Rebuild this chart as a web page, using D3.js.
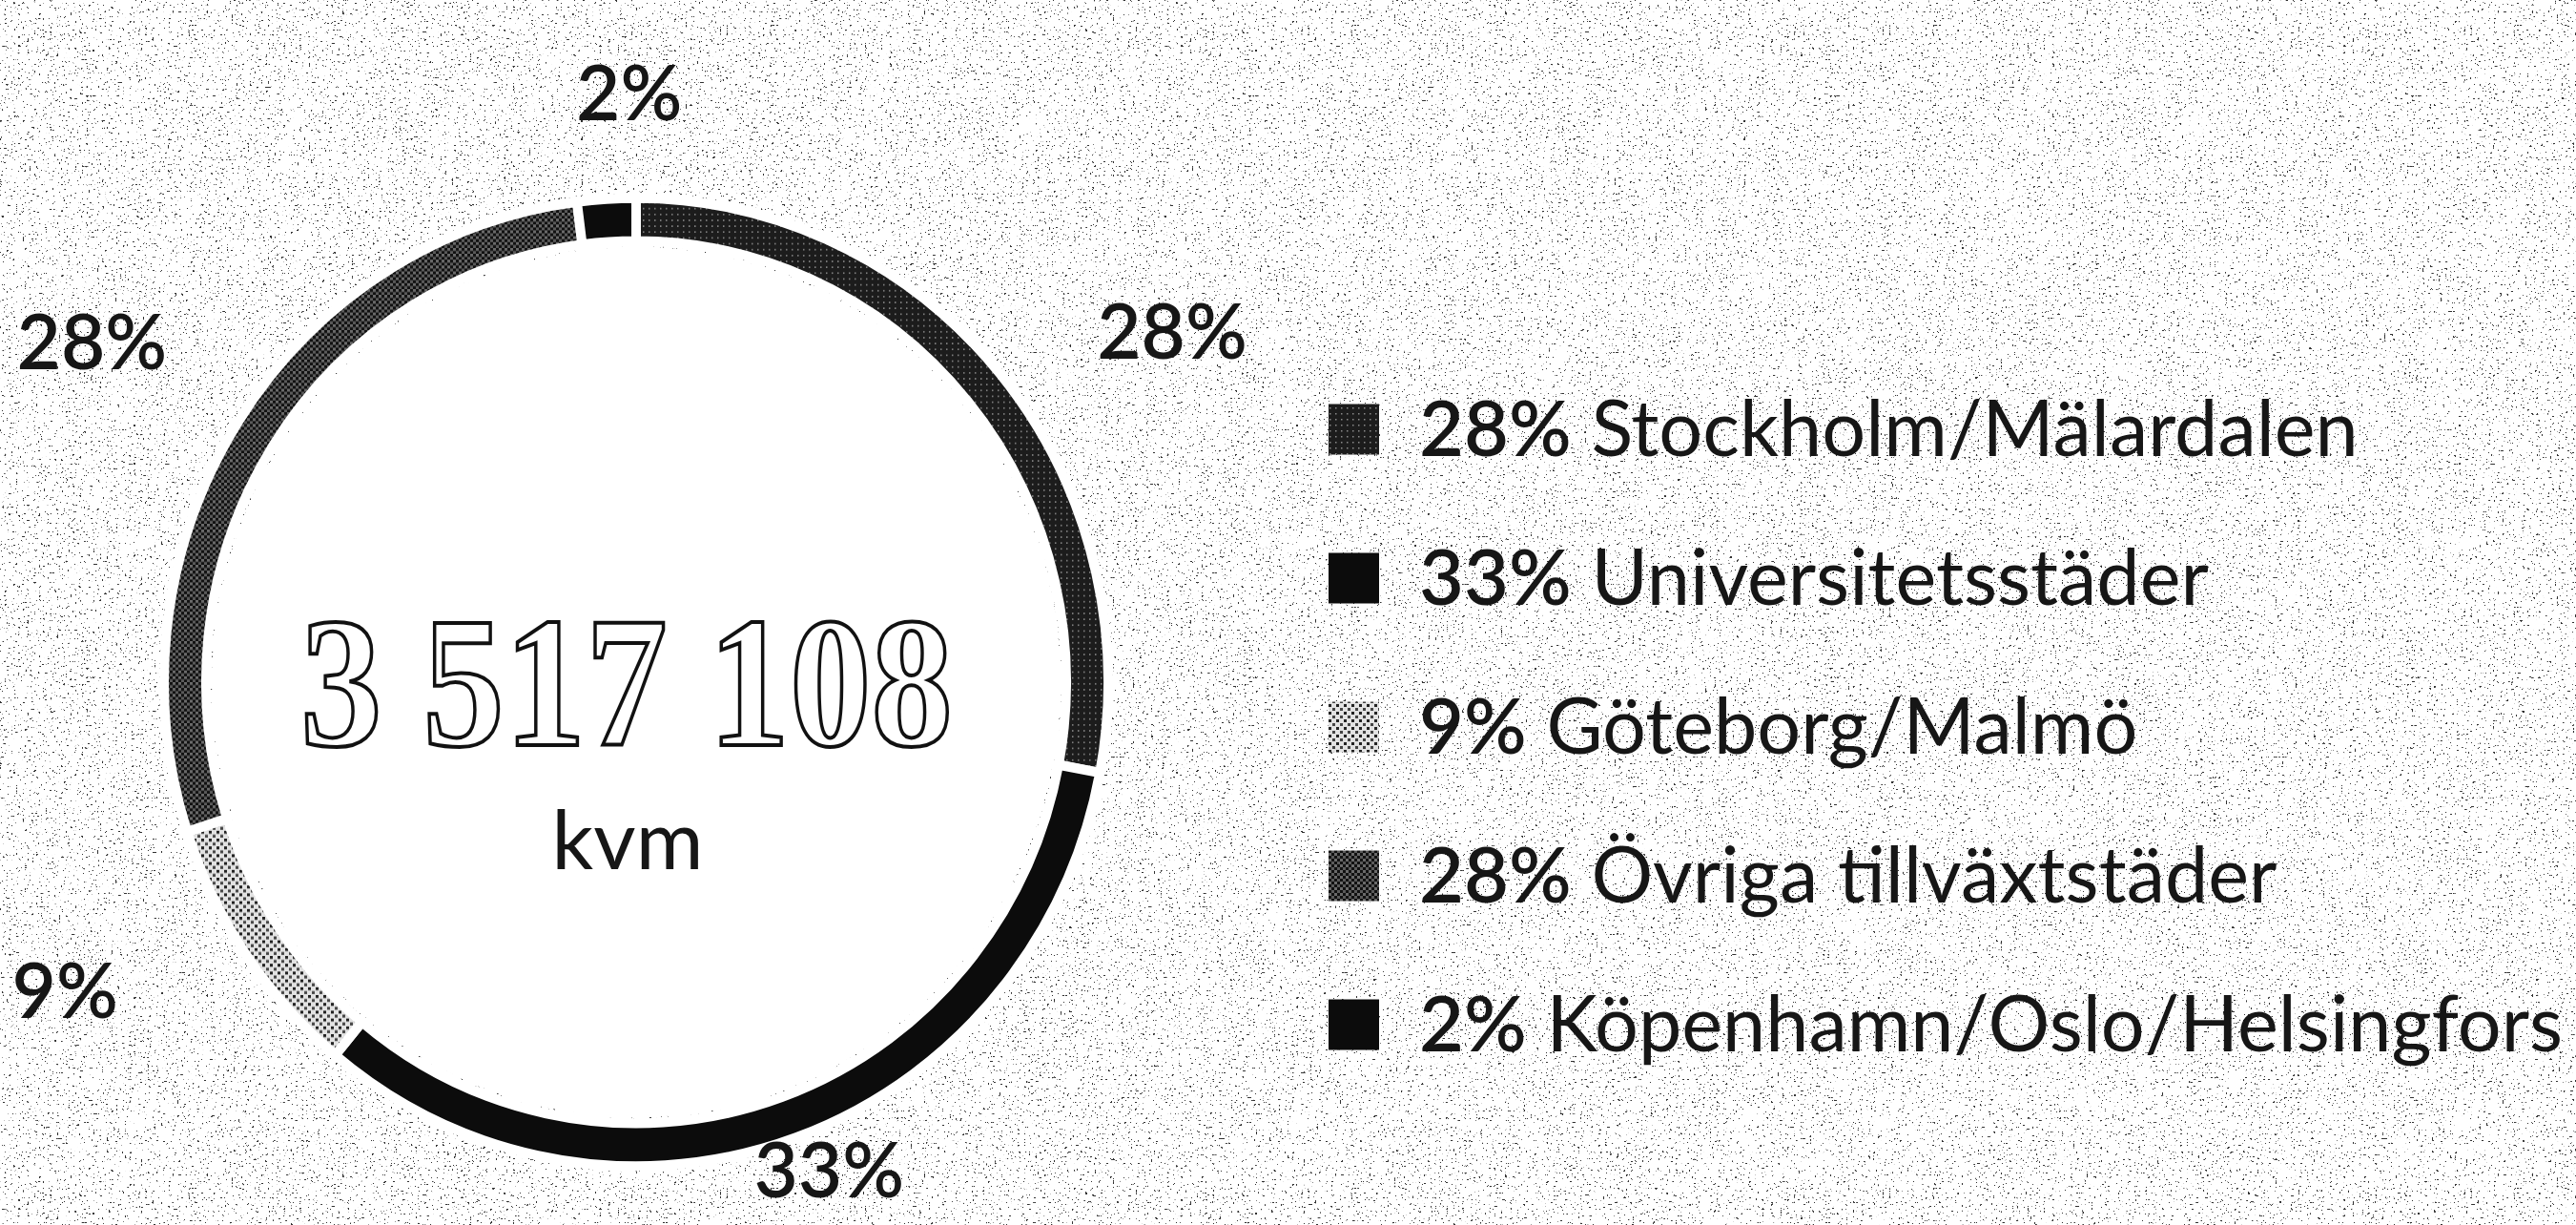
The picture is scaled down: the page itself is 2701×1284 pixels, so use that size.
<!DOCTYPE html>
<html>
<head>
<meta charset="utf-8">
<script src="https://cdn.jsdelivr.net/npm/d3@7/dist/d3.min.js"></script>
<style>
  html, body { margin: 0; padding: 0; background: #fff; }
  svg { display: block; }
</style>
</head>
<body>
<div id="chart"></div>
<script>
// data
const categories = ['Stockholm/Mälardalen', 'Universitetsstäder', 'Göteborg/Malmö', 'Övriga tillväxtstäder', 'Köpenhamn/Oslo/Helsingfors'];
const shares = [28, 33, 9, 28, 2];
const totalLabel = '3 517 108';
const unitLabel = 'kvm';

const W = 2701, H = 1284;
const cx = 667, cy = 715;
const outerR = 495, innerR = 451, squash = 1.025;

const svg = d3.select('#chart').append('svg')
    .attr('width', W)
    .attr('height', H)
    .attr('viewBox', `0 0 ${W} ${H}`);

const defs = svg.append('defs');

// scan speckle over the paper
const speck = defs.append('filter').attr('id', 'speck')
    .attr('x', 0).attr('y', 0).attr('width', '100%').attr('height', '100%');
speck.append('feTurbulence')
    .attr('type', 'fractalNoise')
    .attr('baseFrequency', 0.42)
    .attr('numOctaves', 2)
    .attr('seed', 11);
speck.append('feColorMatrix')
    .attr('type', 'matrix')
    .attr('values', '0 0 0 0 0  0 0 0 0 0  0 0 0 0 0  -24 0 0 0 7.4');

svg.append('rect').attr('width', W).attr('height', H).attr('fill', '#fff');
svg.append('rect').attr('width', W).attr('height', H)
    .attr('fill', '#1a1a1a')
    .attr('opacity', 0.8)
    .attr('filter', 'url(#speck)');

// textures that stand in for the scanned fills
const pStock = defs.append('pattern').attr('id', 'p-stock')
    .attr('width', 6).attr('height', 6).attr('patternUnits', 'userSpaceOnUse');
pStock.append('rect').attr('width', 6).attr('height', 6).attr('fill', '#1c1c1c');
pStock.append('rect').attr('x', 1).attr('y', 1).attr('width', 1.5).attr('height', 1.5).attr('fill', '#8a8a8a');

const pGbg = defs.append('pattern').attr('id', 'p-gbg')
    .attr('width', 8).attr('height', 8).attr('patternUnits', 'userSpaceOnUse');
pGbg.append('rect').attr('width', 8).attr('height', 8).attr('fill', '#e2e2e2');
pGbg.append('rect').attr('width', 3).attr('height', 3).attr('fill', '#222');
pGbg.append('rect').attr('x', 4).attr('y', 4).attr('width', 3).attr('height', 3).attr('fill', '#444');

const pOvr = defs.append('pattern').attr('id', 'p-ovr')
    .attr('width', 6).attr('height', 6).attr('patternUnits', 'userSpaceOnUse');
pOvr.append('rect').attr('width', 6).attr('height', 6).attr('fill', '#111');
pOvr.append('rect').attr('width', 3).attr('height', 3).attr('fill', '#6a6a6a');
pOvr.append('rect').attr('x', 3).attr('y', 3).attr('width', 3).attr('height', 3).attr('fill', '#5a5a5a');

const color = d3.scaleOrdinal()
    .domain(categories)
    .range(['url(#p-stock)', '#0c0c0c', 'url(#p-gbg)', 'url(#p-ovr)', '#0c0c0c']);

const slices = categories.map((c, i) => ({ name: c, value: shares[i] }));

const pie = d3.pie().sort(null).value(d => d.value);
const arc = d3.arc().innerRadius(innerR).outerRadius(outerR);
const arcs = pie(slices);

// clean paper inside the ring, like the reference
svg.append('ellipse')
    .attr('cx', cx).attr('cy', cy)
    .attr('rx', innerR - 6).attr('ry', (innerR - 6) * squash)
    .attr('fill', '#fff');

const ring = svg.append('g')
    .attr('transform', `translate(${cx},${cy}) scale(1,${squash})`);

ring.selectAll('path')
    .data(arcs)
    .enter()
    .append('path')
    .attr('d', arc)
    .attr('fill', d => color(d.data.name))
    .attr('stroke', '#fff')
    .attr('stroke-width', 10);

// percentage labels outside the ring, on an ellipse a little ahead of each slice's middle,
// kept inside the bottom of the frame
const labelRx = 700, labelRy = 620, labelTurn = 3 * Math.PI / 180;
const labels = svg.append('g')
    .attr('font-family', 'Lato, "Open Sans", sans-serif')
    .attr('font-size', 80)
    .attr('font-weight', 600)
    .attr('fill', '#161616');

labels.selectAll('text')
    .data(arcs)
    .enter()
    .append('text')
    .attr('text-anchor', 'middle')
    .attr('dominant-baseline', 'central')
    .attr('x', d => cx + Math.sin((d.startAngle + d.endAngle) / 2 + labelTurn) * labelRx)
    .attr('y', d => Math.min(H - 60, cy - Math.cos((d.startAngle + d.endAngle) / 2 + labelTurn) * labelRy))
    .text(d => d.data.value + '%');

// total in the middle
svg.append('text')
    .attr('x', cx - 10)
    .attr('y', 781)
    .attr('text-anchor', 'middle')
    .attr('font-family', '"Liberation Serif", "DejaVu Serif", serif')
    .attr('font-weight', 700)
    .attr('font-size', 196)
    .attr('textLength', 684)
    .attr('lengthAdjust', 'spacingAndGlyphs')
    .attr('fill', '#fff')
    .attr('stroke', '#111')
    .attr('stroke-width', 4)
    .text(totalLabel);

svg.append('text')
    .attr('x', cx - 9)
    .attr('y', 911)
    .attr('text-anchor', 'middle')
    .attr('font-family', 'Lato, "Open Sans", sans-serif')
    .attr('font-size', 86)
    .attr('fill', '#161616')
    .text(unitLabel);

// legend
const rowY = d3.scalePoint().domain(categories).range([450, 1074]);
const sw = 53;

const legend = svg.append('g')
    .attr('font-family', 'Lato, "Open Sans", sans-serif')
    .attr('font-size', 81)
    .attr('fill', '#161616');

const rows = legend.selectAll('g')
    .data(slices)
    .enter()
    .append('g')
    .attr('transform', d => `translate(1393,${rowY(d.name)})`);

rows.append('rect')
    .attr('y', -sw / 2)
    .attr('width', sw)
    .attr('height', sw)
    .attr('fill', d => color(d.name));

const lt = rows.append('text')
    .attr('x', 95)
    .attr('y', 28);
lt.append('tspan').attr('font-weight', 600).text(d => d.value + '%');
lt.append('tspan').text(d => ' ' + d.name);
</script>
</body>
</html>
